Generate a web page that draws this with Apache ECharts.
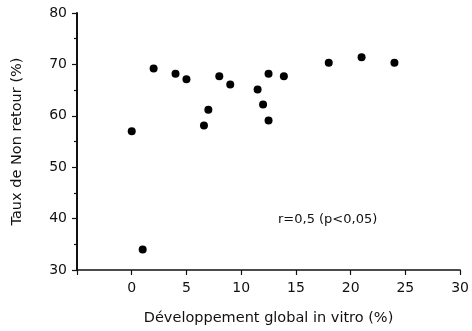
<!DOCTYPE html>
<html>
<head>
<meta charset="utf-8">
<script src="https://cdn.jsdelivr.net/npm/echarts@6/dist/echarts.min.js"></script>
<style>
  html, body { margin: 0; padding: 0; background: #fff; }
  #chart { width: 472px; height: 331px; }
</style>
</head>
<body>
<div id="chart"></div>
<script>
// Développement global in vitro (%)
const devGlobal = [0, 1, 2, 4, 5, 6.6, 7, 8, 9, 11.5, 12, 12.5, 12.5, 13.9, 18, 21, 24];
// Taux de Non retour (%)
const nonRetour = [57, 34, 69.2, 68.2, 67.1, 58.1, 61.2, 67.7, 66.1, 65.1, 62.2, 59.1, 68.2, 67.7, 70.3, 71.4, 70.3];
const xTicks = [0, 5, 10, 15, 20, 25, 30];

const chart = echarts.init(document.getElementById('chart'));
const font = 'DejaVu Sans, Verdana, sans-serif';

chart.setOption({
  animation: false,
  grid: { left: 77, right: 10, top: 13, bottom: 61 },
  xAxis: {
    type: 'value',
    min: -5,
    max: 30,
    interval: 5,
    name: 'Développement global in vitro (%)',
    nameLocation: 'middle',
    nameGap: 41,
    nameTextStyle: { color: '#111', fontSize: 14.5, fontFamily: font },
    axisLine: { onZero: false, lineStyle: { color: '#111', width: 1.6 } },
    axisTick: { show: true, length: 5, lineStyle: { color: '#111', width: 1.2 } },
    axisLabel: {
      color: '#111', fontSize: 14, fontFamily: font, margin: 11,
      formatter: (v) => (xTicks.includes(v) ? String(v) : '')
    },
    splitLine: { show: false }
  },
  yAxis: {
    type: 'value',
    min: 30,
    max: 80,
    interval: 10,
    name: 'Taux de Non retour (%)',
    nameLocation: 'middle',
    nameGap: 52,
    nameTextStyle: { color: '#111', fontSize: 14.5, fontFamily: font },
    axisLine: { show: true, onZero: false, lineStyle: { color: '#111', width: 2 } },
    axisTick: { show: true, length: 5, lineStyle: { color: '#111', width: 1.2 } },
    minorTick: { show: true, splitNumber: 2, length: 3, lineStyle: { color: '#111', width: 1.2 } },
    axisLabel: { color: '#111', fontSize: 14, fontFamily: font, margin: 10 },
    splitLine: { show: false }
  },
  graphic: [{
    type: 'text',
    left: 278,
    top: 213,
    style: { text: 'r=0,5 (p<0,05)', fill: '#111', fontSize: 13, fontFamily: font }
  }],
  series: [{
    type: 'scatter',
    symbol: 'circle',
    symbolSize: 8,
    itemStyle: { color: '#000', opacity: 1 },
    data: devGlobal.map((x, i) => [x, nonRetour[i]])
  }]
});
</script>
</body>
</html>
